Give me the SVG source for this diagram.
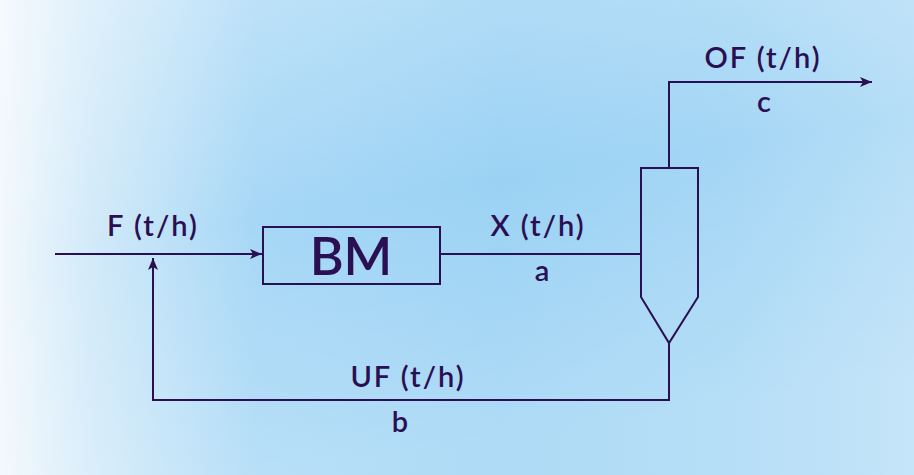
<svg xmlns="http://www.w3.org/2000/svg" width="914" height="475" viewBox="0 0 914 475">
<defs>
<linearGradient id="bg" x1="0" y1="0" x2="1" y2="0">
<stop offset="0" stop-color="#f2f8fd"/>
<stop offset="0.1" stop-color="#d2eaf9"/>
<stop offset="0.28" stop-color="#a6d7f6"/>
<stop offset="0.55" stop-color="#9bd2f4"/>
<stop offset="0.8" stop-color="#a4d6f5"/>
<stop offset="1" stop-color="#b6def7"/>
</linearGradient>
<linearGradient id="bg2" x1="0" y1="0" x2="0.3" y2="1">
<stop offset="0" stop-color="#ffffff" stop-opacity="0.3"/>
<stop offset="0.5" stop-color="#ffffff" stop-opacity="0"/>
<stop offset="1" stop-color="#ffffff" stop-opacity="0.2"/>
</linearGradient>
<marker id="arr" viewBox="0 0 12 10" refX="12" refY="5" markerWidth="12" markerHeight="10" markerUnits="userSpaceOnUse" orient="auto">
<path d="M0,0 L12,5 L0,10 L3,5 Z" fill="#2a0f52"/>
</marker>
<style>
.ln{fill:none;stroke:#2a0f52;stroke-width:2}
.t{font-family:"Lato","Open Sans",sans-serif;font-size:29px;font-weight:600;letter-spacing:2px;fill:#2a0f52;text-anchor:middle}
</style>
</defs>
<rect width="914" height="475" fill="url(#bg)"/>
<rect width="914" height="475" fill="url(#bg2)"/>
<g id="connectors">
<path class="ln" d="M55,254 H262" marker-end="url(#arr)"/>
<path class="ln" d="M440,254 H641"/>
<path class="ln" d="M669,168 V82 H872" marker-end="url(#arr)"/>
<path class="ln" d="M669,343 V400 H153 V258" marker-end="url(#arr)"/>
</g>
<g id="bm">
<rect class="ln" x="263" y="227" width="177" height="57"/>
<text class="t" x="351" y="275" style="font-size:52px;letter-spacing:0">BM</text>
</g>
<g id="cyclone">
<path class="ln" d="M641,168 H698 V297 L669,343 L641,297 Z"/>
</g>
<g id="labels">
<text class="t" x="153" y="236">F (t/h)</text>
<text class="t" x="538" y="236">X (t/h)</text>
<text class="t" x="543" y="281">a</text>
<text class="t" x="763" y="68">OF (t/h)</text>
<text class="t" x="765" y="112">c</text>
<text class="t" x="408" y="387">UF (t/h)</text>
<text class="t" x="401" y="432">b</text>
</g>
</svg>
